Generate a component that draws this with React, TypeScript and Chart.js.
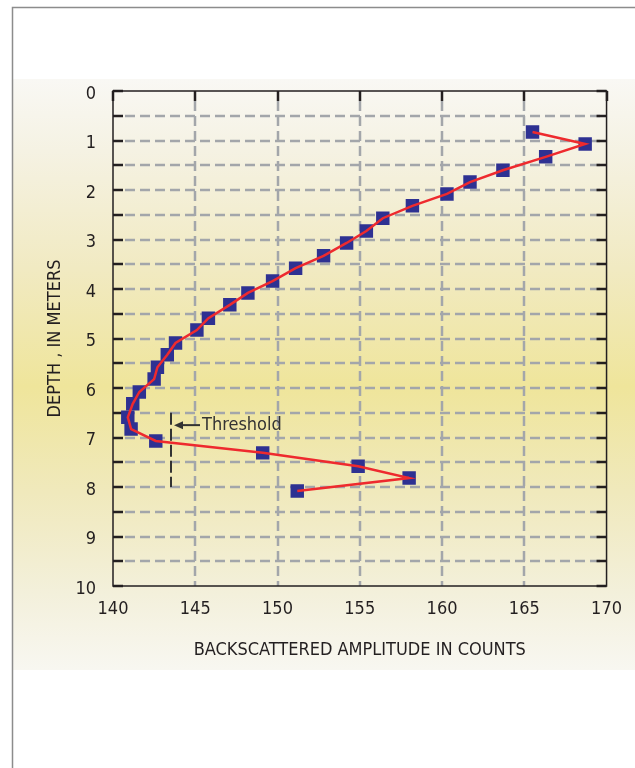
import React, { useEffect, useRef } from "react";
import { Chart, registerables } from "chart.js";

Chart.register(...registerables);

// ---- Data ----
const amplitude = [
  165.5, 168.7, 166.3, 163.7, 161.7, 160.3, 158.2, 156.4, 155.4, 154.2,
  152.8, 151.1, 149.7, 148.2, 147.1, 145.8, 145.1, 143.8, 143.3, 142.7,
  142.5, 141.6, 141.2, 140.9, 141.1, 142.6, 149.1, 154.9, 158.0, 151.2,
];
const depth = [
  0.83, 1.07, 1.33, 1.6, 1.84, 2.08, 2.32, 2.57, 2.83, 3.07,
  3.33, 3.58, 3.84, 4.08, 4.32, 4.59, 4.83, 5.09, 5.33, 5.58,
  5.82, 6.08, 6.32, 6.59, 6.83, 7.07, 7.31, 7.58, 7.82, 8.08,
];
const xTicks = [140, 145, 150, 155, 160, 165, 170];
const yTicks = [0, 1, 2, 3, 4, 5, 6, 7, 8, 9, 10];
const yMinorTicks = [0, 0.5, 1, 1.5, 2, 2.5, 3, 3.5, 4, 4.5, 5, 5.5, 6, 6.5, 7, 7.5, 8, 8.5, 9, 9.5, 10];

const thresholdAmplitude = 143.5;
const thresholdTop = 6.5;
const thresholdBottom = 8.0;
const thresholdLabelDepth = 6.75;
const thresholdLabel = "Threshold";

const xTitle = "BACKSCATTERED AMPLITUDE IN COUNTS";
const yTitle = "DEPTH , IN METERS";

const FONT = "'Liberation Sans Narrow', 'DejaVu Sans Condensed', 'Liberation Sans', Arial, sans-serif";
const TEXT = "#231f20";

const backgroundPlugin = {
  id: "bgPanel",
  beforeDraw(chart: any) {
    const { ctx, width, height } = chart;
    ctx.save();
    ctx.fillStyle = "#ffffff";
    ctx.fillRect(0, 0, width, height);
    const g = ctx.createLinearGradient(0, 79, 0, 670);
    g.addColorStop(0, "#f9f8f4");
    g.addColorStop(0.12, "#f5f2e3");
    g.addColorStop(0.32, "#f1eac2");
    g.addColorStop(0.52, "#efe59b");
    g.addColorStop(0.7, "#f0e9bc");
    g.addColorStop(0.87, "#f3f0db");
    g.addColorStop(1, "#f8f7f1");
    ctx.fillStyle = g;
    ctx.fillRect(13, 79, width - 13, 591);
    ctx.strokeStyle = "#8c8c8c";
    ctx.lineWidth = 1.5;
    ctx.beginPath();
    ctx.moveTo(12.5, height);
    ctx.lineTo(12.5, 7.5);
    ctx.lineTo(width, 7.5);
    ctx.stroke();
    ctx.restore();
  },
};

const gridPlugin = {
  id: "customGrid",
  beforeDatasetsDraw(chart: any) {
    const { ctx, chartArea } = chart;
    const { left, right, top, bottom } = chartArea;
    const xs = chart.scales.x;
    const ys = chart.scales.y;
    ctx.save();
    // dashed grid
    ctx.strokeStyle = "#a3a6aa";
    ctx.lineWidth = 2.5;
    ctx.setLineDash([10, 5]);
    yMinorTicks.forEach((d) => {
      if (d === yMinorTicks[0] || d === yMinorTicks[yMinorTicks.length - 1]) return;
      const y = Math.round(ys.getPixelForValue(d));
      ctx.beginPath();
      ctx.moveTo(left + 12, y);
      ctx.lineTo(right - 4, y);
      ctx.stroke();
    });
    xTicks.forEach((a, i) => {
      if (i === 0 || i === xTicks.length - 1) return;
      const x = Math.round(xs.getPixelForValue(a));
      ctx.beginPath();
      ctx.moveTo(x, top + 10);
      ctx.lineTo(x, bottom);
      ctx.stroke();
    });
    ctx.setLineDash([]);
    // inward black ticks
    ctx.strokeStyle = TEXT;
    ctx.lineWidth = 2.5;
    yMinorTicks.forEach((d) => {
      const y = Math.round(ys.getPixelForValue(d));
      ctx.beginPath();
      ctx.moveTo(left, y);
      ctx.lineTo(left + 10, y);
      ctx.moveTo(right - 10, y);
      ctx.lineTo(right, y);
      ctx.stroke();
    });
    xTicks.forEach((a) => {
      const x = Math.round(xs.getPixelForValue(a));
      ctx.beginPath();
      ctx.moveTo(x, top);
      ctx.lineTo(x, top + 10);
      ctx.stroke();
    });
    // frame
    ctx.lineWidth = 1.5;
    ctx.strokeRect(left, top, right - left, bottom - top);
    ctx.restore();
  },
};

const thresholdPlugin = {
  id: "threshold",
  afterDatasetsDraw(chart: any) {
    const { ctx } = chart;
    const xs = chart.scales.x;
    const ys = chart.scales.y;
    const x = Math.round(xs.getPixelForValue(thresholdAmplitude));
    const y1 = ys.getPixelForValue(thresholdTop);
    const y2 = ys.getPixelForValue(thresholdBottom);
    const ly = ys.getPixelForValue(thresholdLabelDepth);
    ctx.save();
    ctx.strokeStyle = "#333333";
    ctx.fillStyle = "#333333";
    ctx.lineWidth = 2;
    ctx.setLineDash([12, 4]);
    ctx.beginPath();
    ctx.moveTo(x, y1);
    ctx.lineTo(x, y2);
    ctx.stroke();
    ctx.setLineDash([]);
    ctx.beginPath();
    ctx.moveTo(x + 10, ly);
    ctx.lineTo(x + 29, ly);
    ctx.stroke();
    ctx.beginPath();
    ctx.moveTo(x + 3, ly);
    ctx.lineTo(x + 12, ly - 4);
    ctx.lineTo(x + 12, ly + 4);
    ctx.closePath();
    ctx.fill();
    ctx.font = `18px ${FONT}`;
    ctx.textAlign = "left";
    ctx.textBaseline = "middle";
    ctx.fillText(thresholdLabel, x + 31, ly);
    ctx.restore();
  },
};

export default function App() {
  const canvasRef = useRef<HTMLCanvasElement | null>(null);

  useEffect(() => {
    const canvas = canvasRef.current;
    if (!canvas) return;
    const points = amplitude.map((a, i) => ({ x: a, y: depth[i] }));
    const chart = new Chart(canvas, {
      type: "scatter",
      data: {
        datasets: [
          {
            data: points,
            showLine: true,
            borderColor: "#ee2a2e",
            borderWidth: 2.5,
            pointRadius: 0,
            tension: 0,
            fill: false,
            order: 0,
          } as any,
          {
            data: points,
            showLine: false,
            pointStyle: "rect",
            pointRadius: 9.5,
            pointHoverRadius: 9.5,
            backgroundColor: "#2e3192",
            borderColor: "#2e3192",
            borderWidth: 0,
            order: 1,
          } as any,
        ],
      },
      options: {
        responsive: false,
        animation: false,
        devicePixelRatio: 1,
        events: [],
        layout: { padding: { left: 0, top: 91, right: 26, bottom: 107 } },
        plugins: { legend: { display: false }, tooltip: { enabled: false } },
        scales: {
          x: {
            type: "linear",
            position: "bottom",
            min: 140,
            max: 170,
            afterBuildTicks: (s: any) => {
              s.ticks = xTicks.map((v) => ({ value: v }));
            },
            afterFit: (s: any) => {
              s.height = 75;
            },
            grid: { display: false, drawTicks: false },
            border: { display: false },
            ticks: {
              padding: 13,
              color: TEXT,
              font: { family: FONT, size: 18 },
              maxRotation: 0,
              autoSkip: false,
            },
            title: {
              display: true,
              text: xTitle,
              color: TEXT,
              font: { family: FONT, size: 18 },
              padding: { top: 0, bottom: 0 },
            },
          },
          y: {
            type: "linear",
            reverse: true,
            min: 0,
            max: 10,
            afterBuildTicks: (s: any) => {
              s.ticks = yTicks.map((v) => ({ value: v }));
            },
            afterFit: (s: any) => {
              s.width = 113;
            },
            grid: { display: false, drawTicks: false },
            border: { display: false },
            ticks: {
              padding: 17,
              labelOffset: 3,
              color: TEXT,
              font: { family: FONT, size: 18 },
              autoSkip: false,
            },
            title: {
              display: true,
              text: yTitle,
              color: TEXT,
              font: { family: FONT, size: 18 },
              padding: { top: 45, bottom: 0 },
            },
          },
        },
      } as any,
      plugins: [backgroundPlugin, gridPlugin, thresholdPlugin],
    });
    return () => chart.destroy();
  }, []);

  return (
    <div style={{ position: "fixed", left: 0, top: 0, width: 635, height: 768 }}>
      <canvas ref={canvasRef} width={635} height={768} style={{ display: "block" }} />
    </div>
  );
}
